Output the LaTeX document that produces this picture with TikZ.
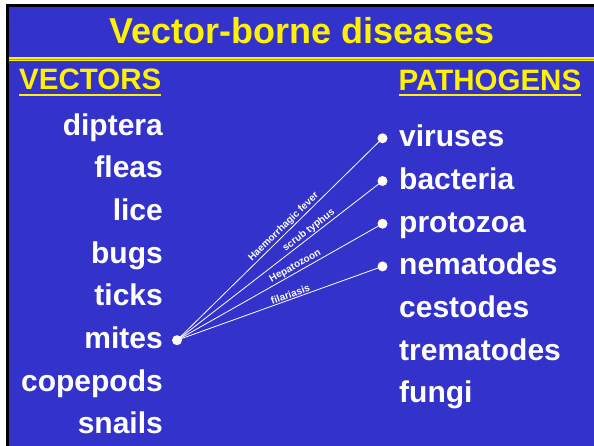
\documentclass[tikz,border=0pt]{standalone}
\usepackage{fontspec}
\setmainfont{Liberation Sans}
\usetikzlibrary{positioning}
\definecolor{slideblue}{RGB}{51,51,204}
\definecolor{ruleolive}{RGB}{150,150,90}

\begin{document}
\begin{tikzpicture}[x=1pt,y=-1pt,
    vector/.style={text=white,font=\bfseries\fontsize{30}{36}\selectfont,inner sep=0pt,text height=22pt,text depth=7pt},
    pathogen/.style={vector},
    head/.style={text=yellow,font=\bfseries\fontsize{29.5}{35}\selectfont,inner sep=0pt},
    dot/.style={circle,fill=white,inner sep=0pt,minimum size=10pt},
    link/.style={white,line width=0.8pt},
    lbl/.style={text=white,font=\bfseries\fontsize{10}{12}\selectfont,sloped,above,inner sep=1pt}]
    % slide background
    \useasboundingbox (0,0) rectangle (594,445);
    \fill[white] (0,0) rectangle (594,445);
    \fill[black] (6,4) rectangle (600,450);
    \fill[slideblue] (9,7) rectangle (600,450);
    \draw[yellow,line width=4pt] (9,59) -- (600,59);
    \draw[ruleolive,line width=0.8pt] (9,59) -- (600,59);

    \node[anchor=base,text=yellow,font=\bfseries\fontsize{36}{43}\selectfont] (title) at (302,43) {Vector-borne diseases};
    \node[head,anchor=base west] (vectors) at (19,89.5) {VECTORS};
    \node[head,anchor=base west] (pathogens) at (398.5,90.5) {PATHOGENS};
    \draw[yellow,line width=2pt] ([yshift=-5pt]vectors.base west) -- ([yshift=-5pt]vectors.base east);
    \draw[yellow,line width=2pt] ([yshift=-4.5pt]pathogens.base west) -- ([yshift=-4.5pt]pathogens.base east);

    % vectors
    \node[vector,anchor=base east] (diptera) at (163,135) {diptera};
    \node[vector,below=13.3pt of diptera.south east,anchor=north east] (fleas) {fleas};
    \node[vector,below=13.3pt of fleas.south east,anchor=north east] (lice) {lice};
    \node[vector,below=13.3pt of lice.south east,anchor=north east] (bugs) {bugs};
    \node[vector,below=13.3pt of bugs.south east,anchor=north east] (ticks) {ticks};
    \node[vector,below=13.3pt of ticks.south east,anchor=north east] (mites) {mites};
    \node[vector,below=13.3pt of mites.south east,anchor=north east] (copepods) {copepods};
    \node[vector,below=13.3pt of copepods.south east,anchor=north east] (snails) {snails};

    % pathogens
    \node[pathogen,anchor=base west] (viruses) at (399,146.7) {viruses};
    \node[pathogen,below=13.3pt of viruses.south west,anchor=north west] (bacteria) {bacteria};
    \node[pathogen,below=13.3pt of bacteria.south west,anchor=north west] (protozoa) {protozoa};
    \node[pathogen,below=13.3pt of protozoa.south west,anchor=north west] (nematodes) {nematodes};
    \node[pathogen,below=13.3pt of nematodes.south west,anchor=north west] (cestodes) {cestodes};
    \node[pathogen,below=13.3pt of cestodes.south west,anchor=north west] (trematodes) {trematodes};
    \node[pathogen,below=13.3pt of trematodes.south west,anchor=north west] (fungi) {fungi};

    % dots
    \node[dot] (mitesdot) at ([xshift=14pt,yshift=8.3pt]mites.base east) {};
    \node[dot] (virusesdot) at ([xshift=-16.5pt,yshift=8.4pt]viruses.base west) {};
    \node[dot] (bacteriadot) at ([xshift=-16.5pt,yshift=8.4pt]bacteria.base west) {};
    \node[dot] (protozoadot) at ([xshift=-16.5pt,yshift=8.4pt]protozoa.base west) {};
    \node[dot] (nematodesdot) at ([xshift=-16.5pt,yshift=8.4pt]nematodes.base west) {};

    \draw[link] (mitesdot.center) -- node[lbl,pos=.54] {Haemorrhagic fever} (virusesdot.center);
    \draw[link] (mitesdot.center) -- node[lbl,pos=.66] {scrub typhus} (bacteriadot.center);
    \draw[link] (mitesdot.center) -- node[lbl,pos=.59] {Hepatozoon} (protozoadot.center);
    \draw[link] (mitesdot.center) -- node[lbl,pos=.56] {filariasis} (nematodesdot.center);
\end{tikzpicture}
\end{document}
